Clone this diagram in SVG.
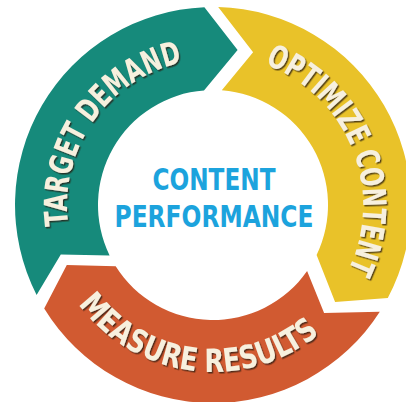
<svg xmlns="http://www.w3.org/2000/svg" xmlns:xlink="http://www.w3.org/1999/xlink" width="406" height="402" viewBox="0 0 406 402">
  <defs>
    <style>
      .lbl { font-family: "Liberation Sans Narrow", "DejaVu Sans Condensed", "Roboto Condensed", "Liberation Sans", sans-serif; font-stretch: condensed; font-weight: bold; font-size: 32px; fill: #F7F0DE; }
      .ctr { font-family: "Liberation Sans Narrow", "DejaVu Sans Condensed", "Roboto Condensed", "Liberation Sans", sans-serif; font-stretch: condensed; font-weight: bold; font-size: 31px; fill: #1CA3DD; text-anchor: middle; }
    </style>
    <filter id="sh" x="-10%" y="-10%" width="120%" height="120%">
      <feDropShadow dx="1.3" dy="1.5" stdDeviation="0.4" flood-color="#2a1e14" flood-opacity="0.75"/>
    </filter>
    <path id="pTeal" d="M101.2,298.8 A146,146 0 0 1 262.9,67.8"/>
    <path id="pYellow" d="M194.7,56.1 A150,150 0 0 1 303.3,324.8"/>
    <path id="pOrange" d="M47.6,228.2 A167,167 0 0 0 367.8,267.6"/>
  </defs>
  <rect width="406" height="402" fill="#FFFFFF"/>
  <g id="connectors"/>
  <g id="target-demand">
    <path d="M36.6,294.9 A198,198 0 0 1 204.4,7.2 L237.6,49.9 L204.0,90.4 A115,115 0 0 0 109.6,255.4 L60.8,254.4 Z" fill="#168A7B"/>
    <text class="lbl" filter="url(#sh)"><textPath xlink:href="#pTeal" href="#pTeal" startOffset="50%" text-anchor="middle" textLength="218" lengthAdjust="spacingAndGlyphs">TARGET DEMAND</textPath></text>
  </g>
  <g id="optimize-content">
    <path d="M218.2,7.1 A198,198 0 0 1 387.8,298.0 L335.1,302.1 L316.6,254.9 A115,115 0 0 0 221.8,90.3 L253.1,52.2 Z" fill="#E9C229"/>
    <text class="lbl" filter="url(#sh)"><textPath xlink:href="#pYellow" href="#pYellow" startOffset="50%" text-anchor="middle" textLength="250" lengthAdjust="spacingAndGlyphs">OPTIMIZE CONTENT</textPath></text>
  </g>
  <g id="measure-results">
    <path d="M379.8,311.7 A198,198 0 0 1 44.2,308.5 L66.8,265.0 L115.7,266.3 A115,115 0 0 0 307.1,271.1 L324.1,313.1 Z" fill="#D15A31"/>
    <text class="lbl" filter="url(#sh)"><textPath xlink:href="#pOrange" href="#pOrange" startOffset="50%" text-anchor="middle" textLength="272" lengthAdjust="spacingAndGlyphs">MEASURE RESULTS</textPath></text>
  </g>
  <g id="content-performance">
    <text class="ctr" x="214" y="190" textLength="123" lengthAdjust="spacingAndGlyphs">CONTENT</text>
    <text class="ctr" x="214" y="227" textLength="199" lengthAdjust="spacingAndGlyphs">PERFORMANCE</text>
  </g>
</svg>
